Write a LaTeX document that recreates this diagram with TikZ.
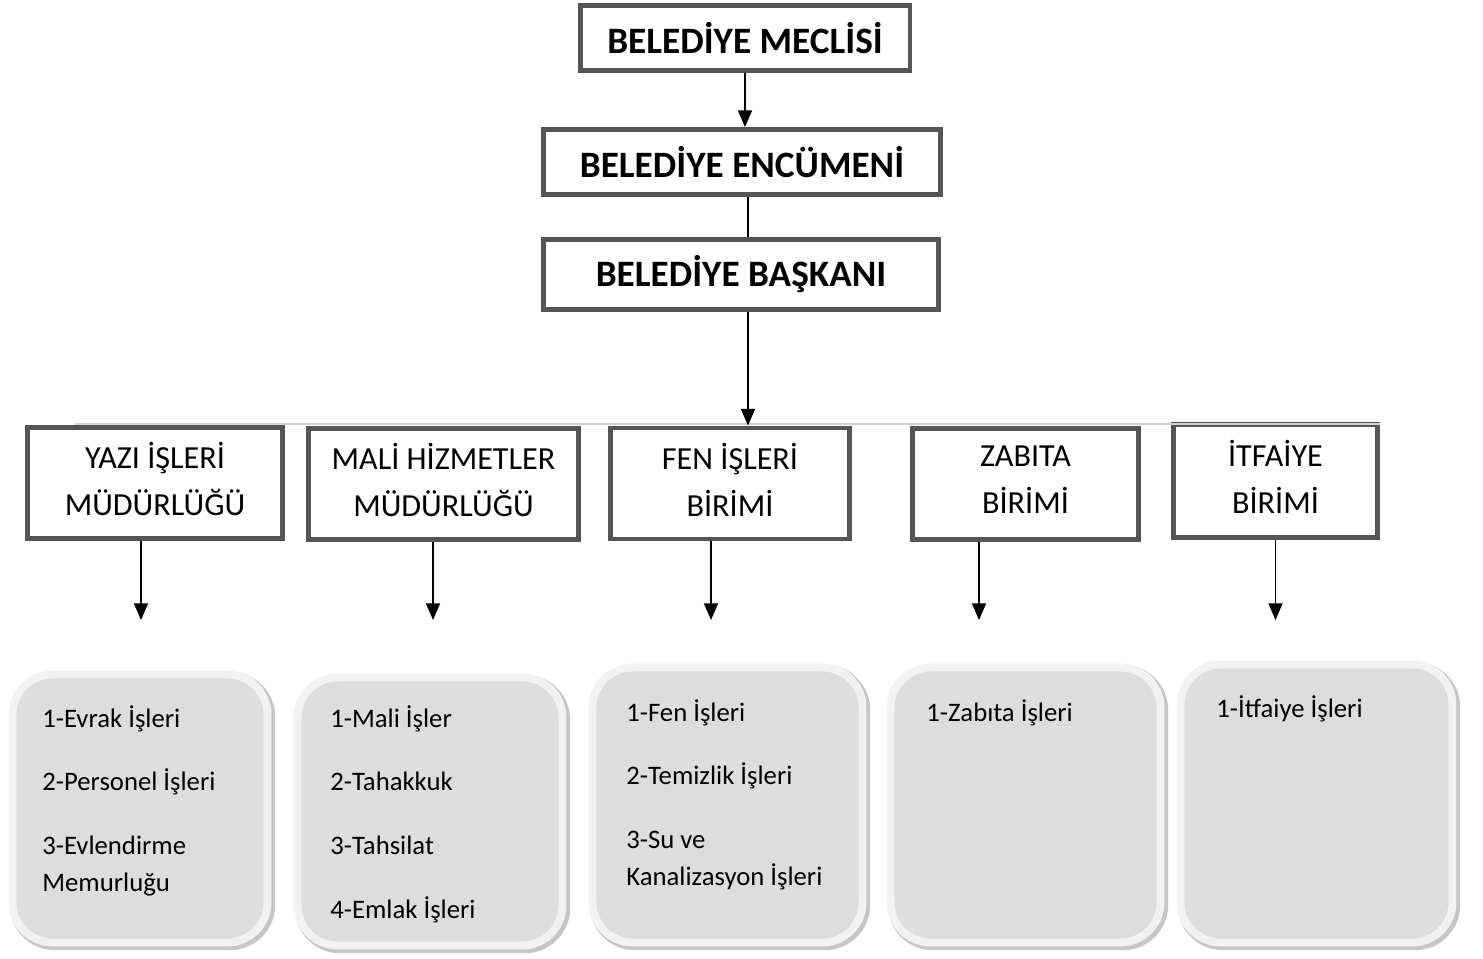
\documentclass[tikz,border=0pt]{standalone}
\usepackage{fontspec}
\setmainfont{Carlito}
\usepackage{tikz}
\usetikzlibrary{positioning, arrows.meta, calc}
\definecolor{framegray}{HTML}{555555}
\definecolor{cellgray}{HTML}{DDDDDD}
\definecolor{rimgray}{HTML}{F2F2F2}

\begin{document}
\begin{tikzpicture}
      [x=0.02cm, y=-0.02cm, inner sep=0pt,
       head/.style={rectangle,draw=framegray,fill=white,line width=2.8pt,
         font=\bfseries\fontsize{21.2}{25}\selectfont},
       unit/.style={rectangle,draw=framegray,fill=white,line width=2.8pt,
         minimum height=2.22cm,align=center,text depth=4.5pt,
         font=\fontsize{18.3}{26.6}\selectfont},
       work/.style={rectangle,rounded corners=0.8cm,fill=cellgray,draw=rimgray,
         line width=4.5pt,
         preaction={draw=gray!45,line width=6pt,transform canvas={xshift=1.4pt,yshift=-1.4pt}}},
       duty/.style={anchor=north west,align=left,font=\fontsize{15.2}{21}\selectfont},
       arrow/.style={line width=0.85pt,-{Triangle[width=8pt,length=9.5pt]}}]
        \useasboundingbox (0,0) rectangle (1483,959);

        % top of the chart
        \node (M) at (745,38) [head,minimum width=6.6cm,minimum height=1.3cm] {BELEDİYE MECLİSİ};
        \node (E) at (742,162) [head,minimum width=7.94cm,minimum height=1.3cm] {BELEDİYE ENCÜMENİ};
        \node (B) at (741,274.5) [head,minimum width=7.9cm,minimum height=1.4cm] {BELEDİYE BAŞKANI};

        % units
        \node (Y) at (155,483) [unit,minimum width=5.1cm] {YAZI İŞLERİ\\MÜDÜRLÜĞÜ};
        \node (H) at (443.5,484) [unit,minimum width=5.4cm] {MALİ HİZMETLER\\MÜDÜRLÜĞÜ};
        \node (F) at (730,483.5) [unit,minimum width=4.78cm] {FEN İŞLERİ\\BİRİMİ};
        \node (Z) at (1025.5,484) [unit,minimum width=4.52cm] {ZABITA\\BİRİMİ};
        \node (I) at (1275.5,481) [unit,minimum width=4.08cm,minimum height=2.26cm] {İTFAİYE\\BİRİMİ};

        \coordinate (hl) at (75,424);
        \coordinate (hr) at (1380,424);
        \draw[gray!35,line width=1.1pt] (hl) -- (hr);

        \draw[arrow] (M.south) -- (M.south |- E.north);
        \draw[line width=0.85pt] ([xshift=0.12cm]E.south) -- ([xshift=0.12cm]E.south |- B.north);
        \draw[arrow] ([xshift=0.14cm]B.south) -- ([xshift=0.14cm]B.south |- F.north);

        % arrows to the work boxes
        \coordinate (y1) at (141,620);
        \coordinate (h1) at (433,620);
        \coordinate (f1) at (711,620);
        \coordinate (z1) at (979,620);
        \coordinate (i1) at (1275.5,620);
        \draw[arrow] (Y.south -| y1) -- (y1);
        \draw[arrow] (H.south -| h1) -- (h1);
        \draw[arrow] (F.south -| f1) -- (f1);
        \draw[arrow] (Z.south -| z1) -- (z1);
        \draw[arrow] (I.south -| i1) -- (i1);

        % work boxes
        \node (Yw) at (140,808.5) [work,minimum width=5.1cm,minimum height=5.36cm] {};
        \node (Hw) at (430,811.5) [work,minimum width=5.3cm,minimum height=5.36cm] {};
        \node (Fw) at (727.5,805) [work,minimum width=5.4cm,minimum height=5.5cm] {};
        \node (Zw) at (1025.5,805) [work,minimum width=5.4cm,minimum height=5.5cm] {};
        \node (Iw) at (1316.5,803.5) [work,minimum width=5.44cm,minimum height=5.56cm] {};

        \node (Yt) at (42,705) [duty] {1-Evrak İşleri\\[15.3pt]2-Personel İşleri\\[15.3pt]3-Evlendirme\\Memurluğu};
        \node (Ht) at (330,705) [duty] {1-Mali İşler\\[15.3pt]2-Tahakkuk\\[15.3pt]3-Tahsilat\\[15.3pt]4-Emlak İşleri};
        \node (Ft) at (626,699) [duty] {1-Fen İşleri\\[15.3pt]2-Temizlik İşleri\\[15.3pt]3-Su ve\\Kanalizasyon İşleri};
        \node (Zt) at (926,699) [duty] {1-Zabıta İşleri};
        \node (It) at (1216,695) [duty] {1-İtfaiye İşleri};
      \end{tikzpicture}
\end{document}
